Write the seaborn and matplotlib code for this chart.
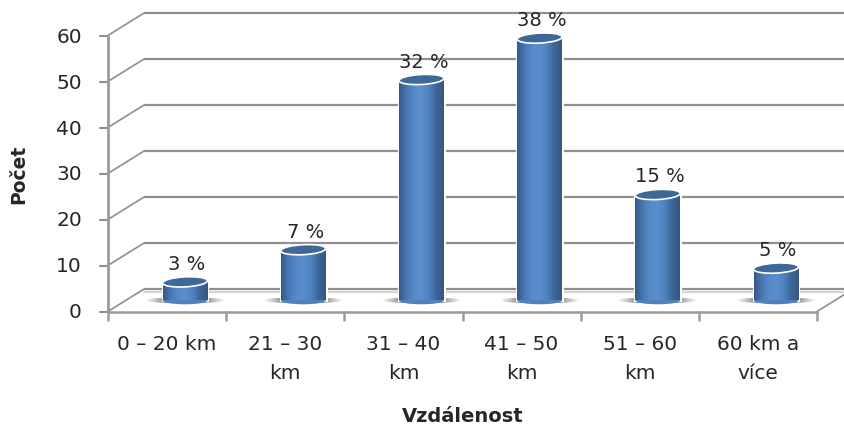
import numpy as np
import pandas as pd
import matplotlib
matplotlib.use("Agg")
import matplotlib.pyplot as plt
from matplotlib.colors import LinearSegmentedColormap
from matplotlib.patches import Ellipse
from matplotlib.transforms import Affine2D
import seaborn as sns

# --- data ---
categories = ['0 – 20 km', '21 – 30\nkm', '31 – 40\nkm', '41 – 50\nkm', '51 – 60\nkm', '60 km a\nvíce']
counts = [4, 11, 48, 57, 23, 7]
percent_labels = ['3 %', '7 %', '32 %', '38 %', '15 %', '5 %']
y_ticks = [0, 10, 20, 30, 40, 50, 60]

sns.set_theme(style="white")
plt.rcParams['font.family'] = ['DejaVu Sans']

W, H = 844, 428
PX_CAT = 118.2      # pixels per category
PX_VAL = 4.6        # pixels per count
X0, Y0 = 185, 300.3 # pixel of first bar centre / zero level
DX = 18 / PX_CAT    # half of the fake 3D depth
DY = 11.2 / PX_VAL
TXT = '#262626'

fig = plt.figure(figsize=(W / 100, H / 100), dpi=100)
ax = fig.add_axes([0, 0, 1, 1])

df = pd.DataFrame({'dist': categories, 'count': counts})
sns.barplot(data=df, x='dist', y='count', width=0.38, color='#4f81bd', ax=ax, zorder=3)

xlim = (-X0 / PX_CAT, (W - X0) / PX_CAT)
ylim = ((Y0 - H) / PX_VAL, Y0 / PX_VAL)
ax.set_xlim(xlim)
ax.set_ylim(ylim)
ax.axis('off')

# --- walls and floor ---
grid_c = '#8f8f8f'
axis_c = '#9c9c9c'
left = -0.5
right = len(categories) - 0.5
for v in y_ticks:
    ax.plot([left + DX, xlim[1]], [v + DY, v + DY], color=grid_c, lw=1.6, zorder=1, solid_capstyle='butt')
    ax.plot([left - DX, left + DX], [v - DY, v + DY], color=grid_c, lw=1.2, zorder=1)
    ax.plot([left - DX - 8 / PX_CAT, left - DX], [v - DY, v - DY], color=grid_c, lw=1.5, zorder=1)
    ax.text(left - DX - 26 / PX_CAT, v - DY - 1.5 / PX_VAL, str(v), ha='right', va='center',
            fontsize=14.5, color=TXT)

ax.plot([left - DX, left - DX], [-DY, 60 - DY], color=axis_c, lw=2, zorder=1)
ax.plot([left - DX, right - DX], [-DY, -DY], color=axis_c, lw=1.8, zorder=1)
ax.plot([right - DX, right + DX], [-DY, DY], color=grid_c, lw=1.2, zorder=1)
ax.plot([left + DX, xlim[1]], [DY - 0.6, DY - 0.6], color='#d4d4d4', lw=1.6, zorder=1)

for i in range(len(categories) + 1):
    x = left - DX + i
    ax.plot([x, x], [-DY, -DY - 8 / PX_VAL], color=axis_c, lw=1.8, zorder=1)

for i, cat in enumerate(categories):
    ax.text(i - DX, -DY - 24 / PX_VAL, cat, ha='center', va='top', fontsize=14.5,
            color=TXT, linespacing=1.62)

ax.text(463 / PX_CAT + xlim[0], (Y0 - 416) / PX_VAL, 'Vzdálenost', ha='center', va='center',
        fontsize=14, fontweight='bold', color=TXT)
ax.text(19 / PX_CAT + xlim[0], (Y0 - 174) / PX_VAL, 'Počet', rotation=90, ha='center', va='center',
        fontsize=13.5, fontweight='bold', color=TXT)

# --- cylinder look on the seaborn bars ---
cyl = LinearSegmentedColormap.from_list('cyl', ['#36598a', '#4878b2', '#568ac9', '#5a8ecd', '#4f82bf', '#3d6699', '#365880'])
shadow = LinearSegmentedColormap.from_list('shadow', ['#ffffff', '#8c8c8c', '#666666', '#8c8c8c', '#ffffff'])
grad = np.linspace(0, 1, 64).reshape(1, -1)
ell_h = 8 / PX_VAL

for bar, value, label in zip(ax.patches, counts, percent_labels):
    x0 = bar.get_x()
    w = bar.get_width()
    cx = x0 + w / 2

    # soft shadow on the floor, tapered by an elliptic clip
    sh = ax.imshow(grad, cmap=shadow, aspect='auto', zorder=2,
                   extent=(cx - w * 0.9, cx + w * 0.9, -1, 1))
    sh.set_clip_path(Ellipse((cx, 0), w * 1.8, 6 / PX_VAL, transform=ax.transData))

    body = ax.imshow(grad, cmap=cyl, aspect='auto', zorder=3.2,
                     extent=(x0, x0 + w, 0, value))
    bar.set_edgecolor('white')
    bar.set_linewidth(2.2)

    base = Ellipse((cx, 0), w, ell_h, facecolor='#4f81bd', edgecolor='none', zorder=3.1)
    ax.add_patch(base)

    top = Ellipse((0, 0), w * PX_CAT, 10, facecolor='#3e6897', edgecolor='white', lw=1.2, zorder=4)
    top.set_transform(Affine2D().rotate_deg(3).translate(*ax.transData.transform((cx, value))))
    ax.add_patch(top)

    ax.annotate(label, (cx, value), xytext=(2, 8), textcoords='offset pixels', ha='center', va='bottom',
                fontsize=14, color=TXT, zorder=5)

ax.set_xlim(xlim)
ax.set_ylim(ylim)
fig.savefig('out.png', dpi=100)
